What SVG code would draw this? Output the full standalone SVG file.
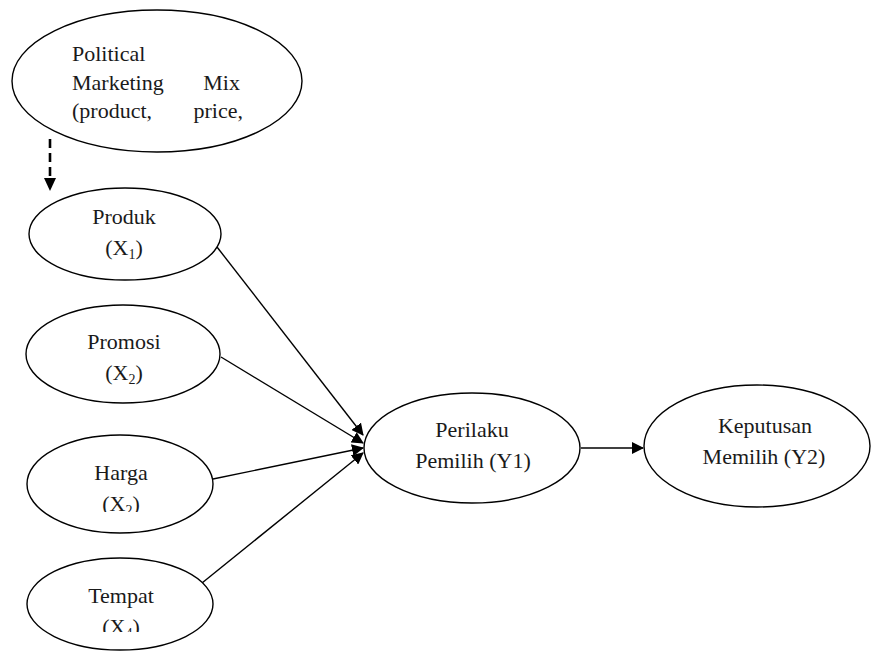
<svg xmlns="http://www.w3.org/2000/svg" width="874" height="651" viewBox="0 0 874 651">
<style>
.node{fill:#fff;stroke:#000;stroke-width:1.4}
.t{font-family:"Liberation Serif","Times New Roman",serif;font-size:22px;fill:#1a1a1a}
.c{text-anchor:middle}
.sub{font-size:14px}
.edge{stroke:#000;stroke-width:1.4;fill:none}
.dash{stroke:#000;stroke-width:2.6;fill:none;stroke-dasharray:9 5}
</style>
<defs>
<marker id="ah2" markerWidth="12" markerHeight="12" refX="11" refY="6" orient="auto" markerUnits="userSpaceOnUse" viewBox="0 0 12 12">
<path d="M0,0 L12,6 L0,12 Z" fill="#000"/>
</marker>
<clipPath id="clipH"><rect x="0" y="420" width="240" height="92"/></clipPath>
<clipPath id="clipT"><rect x="0" y="540" width="240" height="92"/></clipPath>
</defs>
<g id="connectors">
<line class="dash" x1="50" y1="139" x2="50" y2="180"/>
<path d="M44,178 L56,178 L50,191 Z" fill="#000"/>
<line class="edge" x1="217" y1="247" x2="363" y2="435" marker-end="url(#ah2)"/>
<line class="edge" x1="221" y1="357" x2="363" y2="443" marker-end="url(#ah2)"/>
<line class="edge" x1="213" y1="479" x2="363" y2="448" marker-end="url(#ah2)"/>
<line class="edge" x1="202" y1="583" x2="363" y2="453" marker-end="url(#ah2)"/>
<line class="edge" x1="581" y1="448" x2="643" y2="448" marker-end="url(#ah2)"/>
</g>
<g id="political">
<ellipse class="node" cx="157" cy="81" rx="145" ry="71"/>
<text class="t" x="72" y="61">Political</text>
<text class="t" x="72" y="90">Marketing</text>
<text class="t" x="240" y="90" text-anchor="end">Mix</text>
<text class="t" x="72" y="118">(product,</text>
<text class="t" x="243" y="118" text-anchor="end">price,</text>
</g>
<g id="produk">
<ellipse class="node" cx="125" cy="234" rx="96" ry="46"/>
<text class="t c" x="124" y="224">Produk</text>
<text class="t c" x="124" y="255">(X<tspan class="sub" dy="4">1</tspan><tspan dy="-4">)</tspan></text>
</g>
<g id="promosi">
<ellipse class="node" cx="123" cy="354" rx="97" ry="49"/>
<text class="t c" x="124" y="349">Promosi</text>
<text class="t c" x="124" y="380">(X<tspan class="sub" dy="4">2</tspan><tspan dy="-4">)</tspan></text>
</g>
<g id="harga">
<ellipse class="node" cx="120" cy="484" rx="93" ry="49"/>
<text class="t c" x="121" y="480">Harga</text>
<text class="t c" x="121" y="511" clip-path="url(#clipH)">(X<tspan class="sub" dy="4">2</tspan><tspan dy="-4">)</tspan></text>
</g>
<g id="tempat">
<ellipse class="node" cx="120" cy="604" rx="93" ry="46"/>
<text class="t c" x="121" y="603">Tempat</text>
<text class="t c" x="121" y="634" clip-path="url(#clipT)">(X<tspan class="sub" dy="4">4</tspan><tspan dy="-4">)</tspan></text>
</g>
<g id="perilaku">
<ellipse class="node" cx="472" cy="448" rx="108" ry="55"/>
<text class="t c" x="472" y="437">Perilaku</text>
<text class="t c" x="473" y="468">Pemilih (Y1)</text>
</g>
<g id="keputusan">
<ellipse class="node" cx="757" cy="446" rx="113" ry="61"/>
<text class="t c" x="765" y="433">Keputusan</text>
<text class="t c" x="764" y="464">Memilih (Y2)</text>
</g>
</svg>
